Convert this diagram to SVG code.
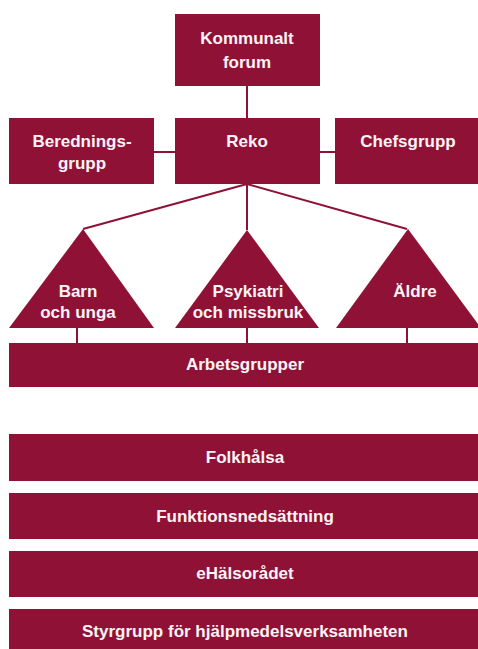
<svg xmlns="http://www.w3.org/2000/svg" width="478" height="649" viewBox="0 0 478 649">
<style>
.n{fill:#8f1236}
.t{fill:#fbf3f5;font-family:"Liberation Sans",Arial,sans-serif;font-weight:bold;font-size:17px;text-anchor:middle}
.c{stroke:#8f1236;stroke-width:2;fill:none}
</style>
<rect width="478" height="649" fill="#fff"/>
<g id="connectors">
<line class="c" x1="247" y1="86" x2="247" y2="118"/>
<line class="c" x1="154" y1="152" x2="175" y2="152"/>
<line class="c" x1="320" y1="152" x2="335" y2="152"/>
<line class="c" x1="247" y1="184" x2="83" y2="229"/>
<line class="c" x1="247" y1="184" x2="247" y2="230"/>
<line class="c" x1="247" y1="184" x2="407" y2="229"/>
<line class="c" x1="77" y1="327" x2="77" y2="343"/>
<line class="c" x1="247" y1="327" x2="247" y2="343"/>
<line class="c" x1="407" y1="327" x2="407" y2="343"/>
</g>
<g id="kommunalt-forum"><rect class="n" x="175" y="14" width="145" height="72"/><text class="t" x="247" y="44">Kommunalt</text><text class="t" x="247" y="68">forum</text></g>
<g id="beredningsgrupp"><rect class="n" x="9" y="118" width="145" height="66"/><text class="t" x="82" y="147">Berednings-</text><text class="t" x="82" y="169">grupp</text></g>
<g id="reko"><rect class="n" x="175" y="118" width="145" height="66"/><text class="t" x="247" y="147">Reko</text></g>
<g id="chefsgrupp"><rect class="n" x="335" y="118" width="146" height="66"/><text class="t" x="408" y="147">Chefsgrupp</text></g>
<g id="barn-och-unga"><polygon class="n" points="83,229 154,328 9,328"/><text class="t" x="78" y="297">Barn</text><text class="t" x="78" y="318">och unga</text></g>
<g id="psykiatri"><polygon class="n" points="247,230 319,328 175,328"/><text class="t" x="248" y="297">Psykiatri</text><text class="t" x="248" y="318">och missbruk</text></g>
<g id="aldre"><polygon class="n" points="408,229 481,328 336,328"/><text class="t" x="415" y="297">Äldre</text></g>
<g id="arbetsgrupper"><rect class="n" x="9" y="343" width="472" height="44"/><text class="t" x="245" y="370">Arbetsgrupper</text></g>
<g id="folkhalsa"><rect class="n" x="9" y="434" width="472" height="47"/><text class="t" x="245" y="463">Folkhålsa</text></g>
<g id="funktionsnedsattning"><rect class="n" x="9" y="493" width="472" height="46"/><text class="t" x="245" y="522">Funktionsnedsättning</text></g>
<g id="ehalsoradet"><rect class="n" x="9" y="551" width="472" height="46"/><text class="t" x="245" y="579">eHälsorådet</text></g>
<g id="styrgrupp"><rect class="n" x="9" y="609" width="472" height="46"/><text class="t" x="245" y="637">Styrgrupp för hjälpmedelsverksamheten</text></g>
</svg>
